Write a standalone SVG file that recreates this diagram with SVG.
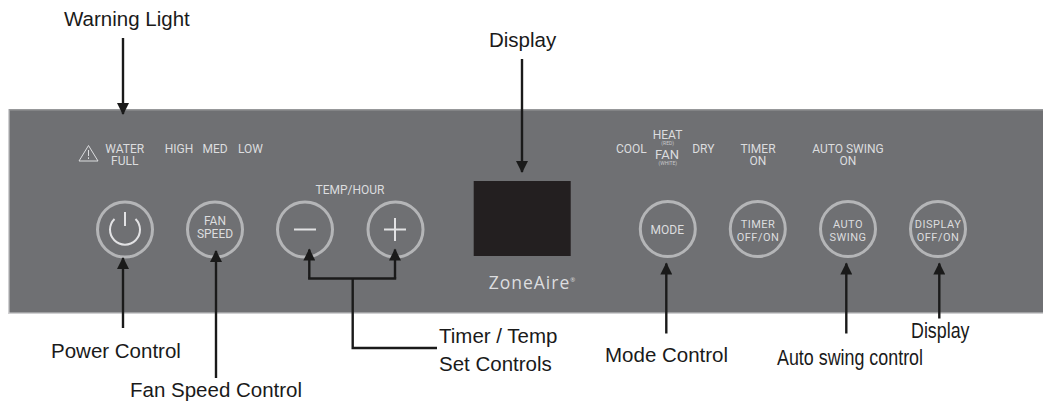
<svg xmlns="http://www.w3.org/2000/svg" width="1043" height="404" viewBox="0 0 1043 404">
<style>
.c{fill:none;stroke:#b4b5b7;stroke-width:3}
.t{font-family:Roboto,"Liberation Sans",sans-serif;fill:#dcdddf;text-anchor:middle;font-size:12px}
.b{font-family:Roboto,"Liberation Sans",sans-serif;fill:#dcdddf;text-anchor:middle;font-size:11px;letter-spacing:.5px}
.s{font-family:Roboto,"Liberation Sans",sans-serif;fill:#c8c9cb;text-anchor:middle;font-size:5px}
.l{font-family:"Liberation Sans",Arial,sans-serif;fill:#1a1a1a;font-size:20.5px}
.a{fill:none;stroke:#1a1a1a;stroke-width:2.400}
.i{fill:none;stroke:#e2e2e4;stroke-width:2}
</style>
<defs><marker id="h" markerUnits="userSpaceOnUse" markerWidth="13" markerHeight="12" refX="11" refY="6" orient="auto"><path d="M0 0L12 6L0 12z" fill="#1a1a1a"/></marker></defs>
<rect width="1043" height="404" fill="#fff"/>
<g id="panel"><rect x="8" y="109" width="1035" height="205" fill="#d0d0d2"/><rect x="9.500" y="109" width="1033.500" height="203.500" fill="#6f7073"/><rect x="9.500" y="109" width="1033.500" height="1.500" fill="#97989a"/></g>
<g id="warning"><path d="M88.500 145.500L98 161H79z" fill="none" stroke="#dcdddf" stroke-width="1"/><path d="M88.500 150V156M88.500 157.300V159" stroke="#dcdddf"/><text class="t" x="124.700" y="153">WATER</text><text class="t" x="124.700" y="165">FULL</text></g>
<g id="fan-levels"><text class="t" x="179" y="153">HIGH</text><text class="t" x="215" y="153">MED</text><text class="t" x="250.500" y="153">LOW</text></g>
<g id="temp-label"><text class="t" x="350" y="194">TEMP/HOUR</text></g>
<g id="power"><circle class="c" cx="125" cy="229.500" r="27.500"/><path d="M114.500 219A15 15 0 1 0 135.500 219" class="i"/><path d="M125 212V226" class="i"/></g>
<g id="fan-speed"><circle class="c" cx="215" cy="229.500" r="27.500"/><text class="t" x="215" y="224.500">FAN</text><text class="t" x="215" y="237.500">SPEED</text></g>
<g id="minus"><circle class="c" cx="305" cy="229.500" r="27.500"/><path d="M294 229.500H316" class="i" stroke-width="2.500"/></g>
<g id="plus"><circle class="c" cx="395.500" cy="229.500" r="27.500"/><path d="M384 229.500H406M395 218V241" class="i" stroke-width="2.500"/></g>
<g id="display-screen"><rect x="473.700" y="181" width="97" height="75" fill="#231f20"/></g>
<g id="brand"><text x="532.500" y="289.300" text-anchor="middle" font-family="'Open Sans',sans-serif" font-size="17.500" letter-spacing="1" fill="#dcdddf">ZoneAire<tspan font-size="6" dy="-7">®</tspan></text></g>
<g id="mode-labels"><text class="t" x="631.300" y="153">COOL</text><text class="t" x="667.500" y="139">HEAT</text><text class="s" x="667.700" y="145.300">(RED)</text><text class="t" x="667" y="159" style="font-size:13px">FAN</text><text class="s" x="667.800" y="165">(WHITE)</text><text class="t" x="703.300" y="153">DRY</text></g>
<g id="timer-label"><text class="t" x="758" y="153">TIMER</text><text class="t" x="758" y="165">ON</text></g>
<g id="swing-label"><text class="t" x="848" y="153">AUTO SWING</text><text class="t" x="848" y="165">ON</text></g>
<g id="mode"><circle class="c" cx="667.800" cy="229" r="27.500"/><text class="t" x="667.300" y="234">MODE</text></g>
<g id="timer"><circle class="c" cx="757.800" cy="229" r="27.500"/><text class="b" x="758" y="228">TIMER</text><text class="b" x="758" y="241">OFF/ON</text></g>
<g id="auto-swing"><circle class="c" cx="848" cy="229" r="27.500"/><text class="b" x="848" y="228">AUTO</text><text class="b" x="848" y="241">SWING</text></g>
<g id="display-btn"><circle class="c" cx="938" cy="229" r="27.500"/><text class="b" x="938" y="228">DISPLAY</text><text class="b" x="938" y="241">OFF/ON</text></g>
<g id="connectors">
<path class="a" d="M123 38V114" marker-end="url(#h)"/>
<path class="a" d="M522 59V172" marker-end="url(#h)"/>
<path class="a" d="M123 328V258" marker-end="url(#h)"/>
<path class="a" d="M216 378V251" marker-end="url(#h)"/>
<path class="a" d="M309.300 278.500V249.500" marker-end="url(#h)"/>
<path class="a" d="M395 278.500V249.500" marker-end="url(#h)"/>
<path class="a" d="M308.100 278.500H396.200"/>
<path class="a" d="M352.700 278.500V348H437"/>
<path class="a" d="M666.300 333.500V263.500" marker-end="url(#h)"/>
<path class="a" d="M846.300 333.500V263.500" marker-end="url(#h)"/>
<path class="a" d="M939.300 318.500V263.500" marker-end="url(#h)"/>
</g>
<g id="labels">
<text class="l" x="64" y="26">Warning Light</text>
<text class="l" x="489" y="47">Display</text>
<text class="l" x="51" y="358">Power Control</text>
<text class="l" x="130" y="397">Fan Speed Control</text>
<text class="l" x="439" y="343">Timer / Temp</text>
<text class="l" x="439" y="371">Set Controls</text>
<text class="l" x="605" y="362">Mode Control</text>
<text class="l" x="777" y="365" style="font-size:21.500px" textLength="146" lengthAdjust="spacingAndGlyphs">Auto swing control</text>
<text class="l" x="911" y="337.500" style="font-size:22px" textLength="58.500" lengthAdjust="spacingAndGlyphs">Display</text>
</g>
</svg>
